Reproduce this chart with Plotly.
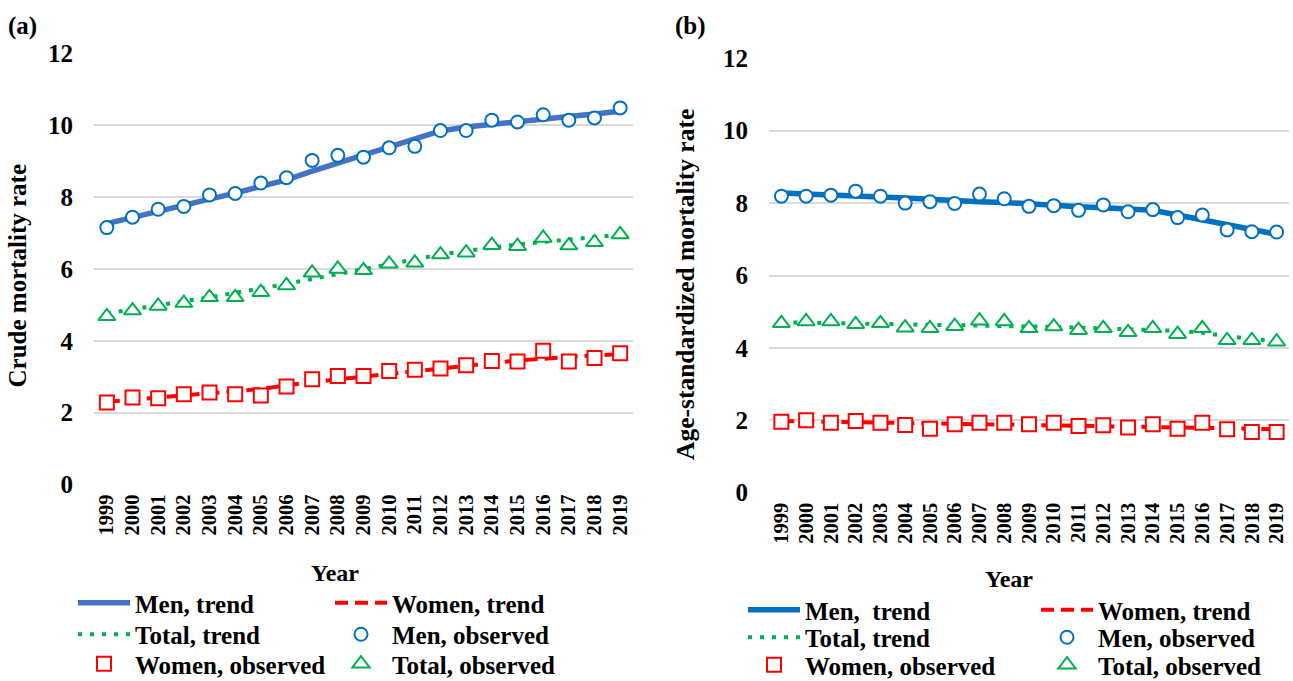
import plotly.graph_objects as go

# ---------------- data ----------------
years = ["1999", "2000", "2001", "2002", "2003", "2004", "2005", "2006", "2007", "2008",
         "2009", "2010", "2011", "2012", "2013", "2014", "2015", "2016", "2017", "2018", "2019"]

# (a) crude mortality rate
men_obs_a = [7.15, 7.44, 7.66, 7.74, 8.06, 8.10, 8.39, 8.54, 9.02, 9.16, 9.11,
             9.37, 9.41, 9.85, 9.85, 10.14, 10.09, 10.29, 10.14, 10.20, 10.48]
men_trend_a = [7.26, 7.44, 7.60, 7.76, 7.94, 8.11, 8.30, 8.48, 8.72, 8.95, 9.15,
               9.38, 9.62, 9.84, 9.95, 10.03, 10.10, 10.18, 10.24, 10.31, 10.39]
total_obs_a = [4.68, 4.84, 4.97, 5.05, 5.21, 5.21, 5.35, 5.54, 5.89, 6.00, 5.96,
               6.14, 6.17, 6.40, 6.45, 6.66, 6.63, 6.86, 6.65, 6.74, 6.96]
total_trend_a = [4.76, 4.88, 4.99, 5.10, 5.21, 5.33, 5.45, 5.58, 5.72, 5.86, 6.00,
                 6.13, 6.27, 6.40, 6.50, 6.60, 6.68, 6.75, 6.82, 6.88, 6.95]
women_obs_a = [2.28, 2.42, 2.40, 2.51, 2.56, 2.51, 2.48, 2.73, 2.93, 3.02, 3.02,
               3.16, 3.19, 3.23, 3.32, 3.44, 3.42, 3.72, 3.42, 3.52, 3.65]
women_trend_a = [2.30, 2.36, 2.42, 2.48, 2.54, 2.60, 2.66, 2.76, 2.85, 2.93, 3.00,
                 3.08, 3.16, 3.23, 3.30, 3.38, 3.45, 3.51, 3.55, 3.59, 3.63]

# (b) age-standardized mortality rate
men_obs_b = [8.19, 8.19, 8.22, 8.33, 8.19, 8.00, 8.04, 7.99, 8.25, 8.12, 7.91,
             7.93, 7.80, 7.95, 7.76, 7.82, 7.60, 7.67, 7.26, 7.21, 7.20]
men_trend_b = [8.28, 8.26, 8.23, 8.20, 8.17, 8.14, 8.10, 8.07, 8.04, 8.02, 7.97,
               7.93, 7.90, 7.87, 7.83, 7.80, 7.67, 7.53, 7.40, 7.27, 7.14]
total_obs_b = [4.68, 4.73, 4.73, 4.65, 4.68, 4.56, 4.54, 4.60, 4.75, 4.73, 4.54,
               4.59, 4.49, 4.54, 4.43, 4.54, 4.38, 4.54, 4.21, 4.21, 4.17]
total_trend_b = [4.71, 4.70, 4.69, 4.68, 4.67, 4.66, 4.65, 4.64, 4.63, 4.62, 4.60,
                 4.58, 4.56, 4.54, 4.52, 4.50, 4.47, 4.42, 4.32, 4.25, 4.18]
women_obs_b = [1.96, 2.00, 1.93, 1.98, 1.93, 1.87, 1.77, 1.89, 1.93, 1.93, 1.89,
               1.93, 1.84, 1.86, 1.80, 1.89, 1.77, 1.93, 1.75, 1.68, 1.68]
women_trend_b = [1.98, 1.97, 1.96, 1.95, 1.94, 1.93, 1.92, 1.91, 1.90, 1.89, 1.88,
                 1.87, 1.86, 1.85, 1.84, 1.83, 1.82, 1.81, 1.79, 1.77, 1.75]

y_ticks = [0, 2, 4, 6, 8, 10, 12]

# ---------------- style ----------------
W, H = 1293, 681
FONT = "Liberation Serif"
BLUE_A = "#4472C4"
BLUE = "#0070C0"
RED = "#FF0000"
GREEN = "#00B050"
GRID = "#D9D9D9"


def px(xp):
    return xp / W


def py(yp):
    return 1 - yp / H


def bold(size):
    return dict(family=FONT, size=size, color="black", weight="bold")


fig = go.Figure()


def add_panel(xa, ya, men_t, women_t, total_t, men_o, women_o, total_o, men_color,
              men_label, lg):
    # lg: legend ids in the order of traces below
    fig.add_trace(go.Scatter(x=years, y=men_t, mode="lines", name=men_label,
                             line=dict(color=men_color, width=5.5),
                             xaxis=xa, yaxis=ya, legend=lg[0]))
    fig.add_trace(go.Scatter(x=years, y=women_t, mode="lines", name="Women, trend",
                             line=dict(color=RED, width=4, dash="13px,7px"),
                             xaxis=xa, yaxis=ya, legend=lg[1]))
    fig.add_trace(go.Scatter(x=years, y=total_t, mode="lines", name="Total, trend",
                             line=dict(color=GREEN, width=4, dash="4px,8px"),
                             xaxis=xa, yaxis=ya, legend=lg[2]))
    fig.add_trace(go.Scatter(x=years, y=men_o, mode="markers", name="Men, observed",
                             marker=dict(symbol="circle", size=13, color="white",
                                         line=dict(color=BLUE, width=2)),
                             xaxis=xa, yaxis=ya, legend=lg[3]))
    fig.add_trace(go.Scatter(x=years, y=women_o, mode="markers", name="Women, observed",
                             marker=dict(symbol="square", size=14, color="white",
                                         line=dict(color=RED, width=2)),
                             xaxis=xa, yaxis=ya, legend=lg[4]))
    fig.add_trace(go.Scatter(x=years, y=total_o, mode="markers", name="Total, observed",
                             marker=dict(symbol="triangle-up", size=15, color="white",
                                         line=dict(color=GREEN, width=2)),
                             xaxis=xa, yaxis=ya, legend=lg[5]))


legend_ids = ["legend"] + ["legend%d" % i for i in range(2, 13)]
add_panel("x", "y", men_trend_a, women_trend_a, total_trend_a,
          men_obs_a, women_obs_a, total_obs_a, BLUE_A, "Men, trend", legend_ids[0:6])
add_panel("x2", "y2", men_trend_b, women_trend_b, total_trend_b,
          men_obs_b, women_obs_b, total_obs_b, BLUE, "Men,\u00a0 trend", legend_ids[6:12])

xaxis_common = dict(type="category", categoryorder="array", categoryarray=years,
                    range=[-0.5, 20.5], showgrid=False, showline=False, zeroline=False,
                    tickmode="array", tickvals=years, ticktext=years,
                    ticks="", tickangle=-90, tickfont=bold(20.5), ticklabelstandoff=5,
                    automargin=False)
yaxis_common = dict(range=[0, 12], tickmode="array", tickvals=y_ticks,
                    showgrid=True, gridcolor=GRID, gridwidth=1.5, zeroline=False,
                    showline=False, ticks="", tickfont=bold(25), ticklabelstandoff=20,
                    automargin=False)

legend_common = dict(orientation="v", xanchor="left", yanchor="top",
                     bgcolor="rgba(0,0,0,0)", borderwidth=0, itemwidth=52,
                     font=bold(25), tracegroupgap=0, itemclick=False)

# legend slots: (left px, top px) for each trace legend, in trace order
# order: men trend, women trend, total trend, men obs, women obs, total obs
slots_a = [(73, 580), (330, 580), (73, 611.5), (330, 611.5), (73, 641), (330, 641)]
slots_b = [(743, 587), (1036, 587), (743, 614.5), (1036, 614.5), (743, 642), (1036, 642)]

legend_layout = {}
for lid, (lx, ly) in zip(legend_ids, slots_a + slots_b):
    legend_layout[lid] = dict(x=px(lx), y=py(ly), **legend_common)

fig.update_layout(
    width=W, height=H,
    margin=dict(l=0, r=0, t=0, b=0, autoexpand=False),
    paper_bgcolor="white", plot_bgcolor="white",
    showlegend=True,
    xaxis=dict(domain=[px(94), px(633)], anchor="y", **xaxis_common),
    yaxis=dict(domain=[py(484.5), py(53.3)], anchor="x", **yaxis_common),
    xaxis2=dict(domain=[px(769), px(1289)], anchor="y2", **xaxis_common),
    yaxis2=dict(domain=[py(492.7), py(58.3)], anchor="x2", **yaxis_common),
    annotations=[
        dict(text="(a)", x=px(6), y=py(26), xref="paper", yref="paper",
             xanchor="left", yanchor="middle", showarrow=False, font=bold(25)),
        dict(text="(b)", x=px(673), y=py(26), xref="paper", yref="paper",
             xanchor="left", yanchor="middle", showarrow=False, font=bold(25)),
        dict(text="Crude mortality rate", x=px(17), y=py(275.5), xref="paper", yref="paper",
             xanchor="center", yanchor="middle", textangle=-90, showarrow=False,
             font=bold(25)),
        dict(text="Age-standardized mortality rate", x=px(686), y=py(285),
             xref="paper", yref="paper", xanchor="center", yanchor="middle",
             textangle=-90, showarrow=False, font=bold(25.5)),
        dict(text="Year", x=px(335), y=py(573), xref="paper", yref="paper",
             xanchor="center", yanchor="middle", showarrow=False, font=bold(24)),
        dict(text="Year", x=px(1009), y=py(579), xref="paper", yref="paper",
             xanchor="center", yanchor="middle", showarrow=False, font=bold(24)),
    ],
)
fig.update_layout(**legend_layout)

fig.write_html("out.html")
